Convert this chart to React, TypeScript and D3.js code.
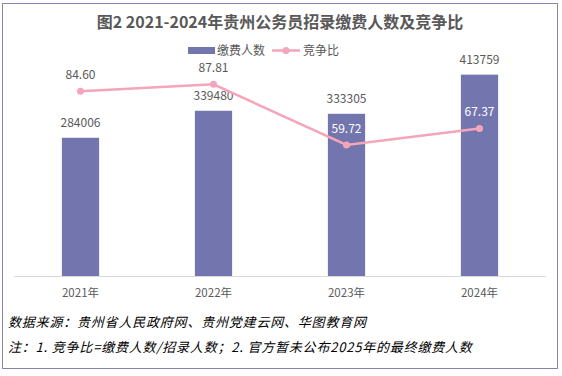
import React from "react";
import * as d3 from "d3";

const years = ["2021年", "2022年", "2023年", "2024年"];
const payers = [284006, 339480, 333305, 413759];
const ratios = [84.6, 87.81, 59.72, 67.37];
const ratioLabels = ["84.60", "87.81", "59.72", "67.37"];
const ratioLabelWhite = [false, false, true, true];
const title = "图2 2021-2024年贵州公务员招录缴费人数及竞争比";
const legendNames = ["缴费人数", "竞争比"];
const notes = [
  "数据来源：贵州省人民政府网、贵州党建云网、华图教育网",
  "注：1. 竞争比=缴费人数/招录人数；2. 官方暂未公布2025年的最终缴费人数",
];

const W = 562, H = 376;
const BAR = "#7376AE";
const LINE = "#F5A5B9";
const TXT = "#595959";
const FONT = "'Noto Sans CJK SC', 'Noto Sans', sans-serif";

export default function App() {
  const x = d3.scaleBand<string>().domain(years).range([14, 546]).paddingInner(0.72).paddingOuter(0.36);
  const y = d3.scaleLinear().domain([0, 450000]).range([276, 57]);
  const y2 = d3.scaleLinear().domain([0, 100]).range([274, 58]);
  const cx = (d: string) => (x(d) as number) + x.bandwidth() / 2;
  const line = d3.line<number>().x((_, i) => cx(years[i])).y((d) => y2(d));

  return (
    <svg width={W} height={H} style={{ position: "absolute", left: 0, top: 0, fontFamily: FONT }}>
      <rect x={0} y={0} width={W} height={H} fill="#fff" />
      <rect x={2.5} y={3.5} width={555} height={365} fill="none" stroke="#8585B5" strokeWidth={1} />
      <text x={280} y={28} textAnchor="middle" fontSize={16} fontWeight="bold" fill={TXT}>{title}</text>
      {/* legend */}
      <rect x={188} y={47} width={27} height={7} fill={BAR} />
      <text x={217} y={55} fontSize={12} fill={TXT}>{legendNames[0]}</text>
      <line x1={272} y1={50.5} x2={300} y2={50.5} stroke={LINE} strokeWidth={2.5} />
      <circle cx={286} cy={50.5} r={3.5} fill={LINE} />
      <text x={303} y={55} fontSize={12} fill={TXT}>{legendNames[1]}</text>
      {/* baseline */}
      <line x1={14} x2={546} y1={276.5} y2={276.5} stroke="#D9D9D9" />
      {years.map((d, i) => (
        <g key={d}>
          <rect x={x(d)} y={y(payers[i])} width={x.bandwidth()} height={276 - y(payers[i])} fill={BAR} />
          <text x={cx(d)} y={y(payers[i]) - 11} textAnchor="middle" fontSize={12} fill={TXT}>{payers[i]}</text>
          <text x={cx(d)} y={297} textAnchor="middle" fontSize={11.5} fill={TXT}>{d}</text>
        </g>
      ))}
      <path d={line(ratios) as string} fill="none" stroke={LINE} strokeWidth={2.5} />
      {ratios.map((v, i) => (
        <g key={i}>
          <circle cx={cx(years[i])} cy={y2(v)} r={3.5} fill={LINE} />
          <text x={cx(years[i])} y={y2(v) - 12} textAnchor="middle" fontSize={12} fill={ratioLabelWhite[i] ? "#fff" : TXT}>{ratioLabels[i]}</text>
        </g>
      ))}
      {notes.map((t, i) => (
        <text key={i} x={8} y={327 + i * 25} fontSize={13} letterSpacing={0.8} fontStyle="italic" fill="#000">{t}</text>
      ))}
    </svg>
  );
}
